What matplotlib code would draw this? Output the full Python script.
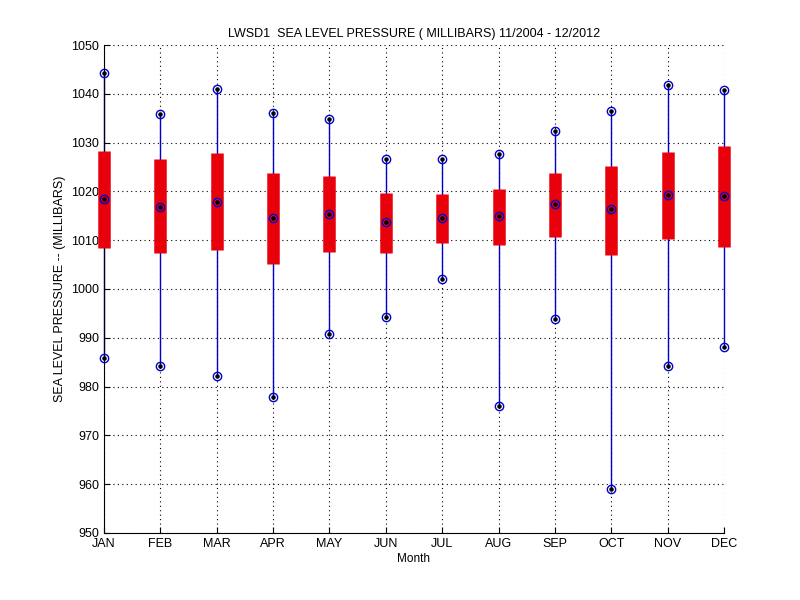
import matplotlib
matplotlib.use("Agg")
import matplotlib.pyplot as plt

months = ["JAN", "FEB", "MAR", "APR", "MAY", "JUN", "JUL", "AUG", "SEP", "OCT", "NOV", "DEC"]
p_max = [1044.2, 1035.9, 1040.9, 1036.0, 1034.8, 1026.6, 1026.6, 1027.7, 1032.4, 1036.5, 1041.8, 1040.8]
p_q3 = [1028.3, 1026.6, 1027.9, 1023.8, 1023.2, 1019.7, 1019.5, 1020.5, 1023.8, 1025.2, 1028.1, 1029.3]
p_med = [1018.4, 1016.9, 1017.8, 1014.5, 1015.4, 1013.7, 1014.5, 1014.9, 1017.4, 1016.3, 1019.3, 1019.1]
p_q1 = [1008.5, 1007.4, 1007.9, 1005.2, 1007.6, 1007.4, 1009.5, 1009.1, 1010.7, 1007.0, 1010.2, 1008.7]
p_min = [985.9, 984.2, 982.1, 977.9, 990.7, 994.2, 1002.0, 976.1, 993.8, 959.0, 984.2, 988.1]

plt.rcParams['font.family'] = ['Liberation Sans', 'DejaVu Sans']
fig = plt.figure(figsize=(8, 6), dpi=100)
ax = fig.add_axes([0.13, 0.1117, 0.775, 0.8133])

x = list(range(1, 13))
ax.vlines(x, p_min, p_max, colors='#0000cc', linewidth=1.0, zorder=2, clip_on=False)
ax.vlines(x, p_q1, p_q3, colors='#e8000b', linewidth=9, zorder=3, clip_on=False)
for vals in (p_max, p_min, p_med):
    ax.plot(x, vals, linestyle='none', marker='o', markersize=6, markerfacecolor='none',
            markeredgecolor='#0000cc', markeredgewidth=1.0, zorder=4, clip_on=False)
    ax.plot(x, vals, linestyle='none', marker='.', markersize=4.5, color='black', zorder=5,
            clip_on=False)

ax.set_xlim(1, 12)
ax.set_ylim(950, 1050)
ax.set_xticks(x)
ax.set_xticklabels(months)
ax.set_yticks(range(950, 1051, 10))
ax.tick_params(direction='in', labelsize=9, length=4, top=False, right=False)
ax.grid(True, linestyle=(0, (1, 3)), color='black', linewidth=0.8)
ax.spines['top'].set_visible(False)
ax.spines['right'].set_visible(False)
ax.set_title("LWSD1  SEA LEVEL PRESSURE ( MILLIBARS) 11/2004 - 12/2012", fontsize=9)
ax.set_ylabel("SEA LEVEL PRESSURE -- (MILLIBARS)", fontsize=9)
ax.set_xlabel("Month", fontsize=8.5, labelpad=2)

fig.savefig("out.png", dpi=100)
